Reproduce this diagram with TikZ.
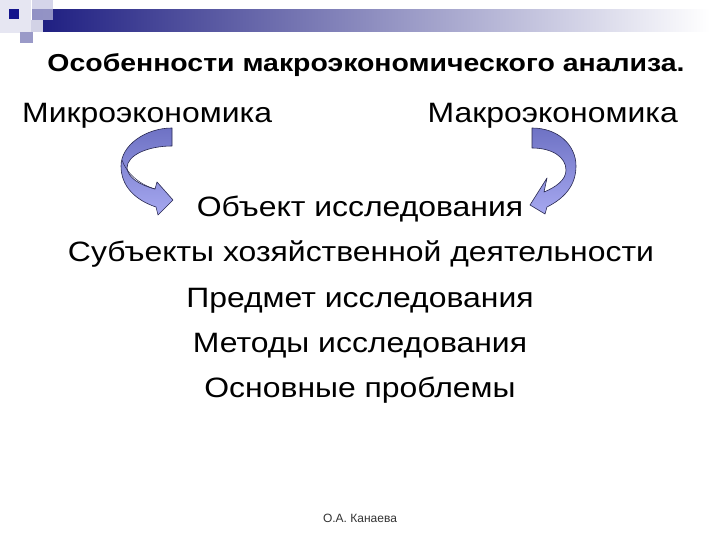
\documentclass[tikz,border=0pt]{standalone}
\usepackage{fontspec}
\setmainfont{Liberation Sans}
\usetikzlibrary{shapes.geometric}
\definecolor{navy}{HTML}{1C1C80}
\definecolor{barmid}{HTML}{A0A0B8}
\definecolor{sqpale}{HTML}{E6E6F2}
\definecolor{sqlight}{HTML}{C4C4E2}
\definecolor{sqmid}{HTML}{9A9AC8}
\definecolor{sqdark}{HTML}{14148C}
\definecolor{sqgrey}{HTML}{D2D2E6}
\definecolor{arrtop}{HTML}{6E72C4}
\definecolor{arrbot}{HTML}{A6A8F0}
\definecolor{arredge}{HTML}{282850}
\newcommand{\wide}[1]{\scalebox{1.14}[1]{#1}}
\tikzset{
  big/.style={font=\fontsize{28}{34}\selectfont, inner sep=0pt, anchor=base, text=black},
  titletext/.style={font=\fontsize{24.5}{29}\selectfont\bfseries, inner sep=0pt, anchor=base},
  foot/.style={font=\fontsize{12}{14}\selectfont, inner sep=0pt, anchor=base, text=black!80},
  ribbon/.style={draw=arredge, line width=0.6pt, top color=arrtop, bottom color=arrbot, line join=round}
}
\begin{document}
\begin{tikzpicture}[x=1pt,y=-1pt]
\useasboundingbox (0,0) rectangle (720,540);
\fill[white] (0,0) rectangle (720,540);
% header decoration
\fill[sqpale] (0,0) rectangle (31,33);
\shade[left color=navy, middle color=barmid, right color=white] (32,10) rectangle (710,32);
\fill[sqlight, opacity=0.7] (32,0) rectangle (53,20);
\fill[sqgrey] (31,20) rectangle (43,32);
\fill[sqdark] (9,9) rectangle (19,19);
\fill[sqmid] (20,32) rectangle (33,43);
% texts
\node[titletext] (title) at (366,72) {\scalebox{1.16}[1]{Особенности макроэкономического анализа.}};
\node[big, anchor=base west] (micro) at (22,123) {\wide{Микроэкономика}};
\node[big, anchor=base east] (macro) at (678,123) {\wide{Макроэкономика}};
\node[big] (l1) at (360,216) {\wide{Объект исследования}};
\node[big] (l2) at (361,261.5) {\wide{Субъекты хозяйственной деятельности}};
\node[big] (l3) at (360,307) {\wide{Предмет исследования}};
\node[big] (l4) at (360,352) {\wide{Методы исследования}};
\node[big] (l5) at (360,397.5) {\wide{Основные проблемы}};
\node[foot] (author) at (360,522) {О.А. Канаева};
% curved ribbon arrows
\path[ribbon] (172,128) .. controls (146,128) and (121,145) .. (121,166)
  .. controls (121,186) and (135,200) .. (156,207) -- (158,215) -- (173,200) -- (157,182) -- (155,189)
  .. controls (140,185) and (128,178) .. (127,168)
  .. controls (127,155) and (148,146) .. (172,146) -- cycle;
\draw[arredge, line width=0.5pt] (122,160) .. controls (126,172) and (138,184) .. (155,189);
\path[ribbon] (532,128) .. controls (558,128) and (576,145) .. (576,166)
  .. controls (576,185) and (565,198) .. (547,207) -- (545,214) -- (530,205) -- (547,178) -- (544,192)
  .. controls (556,187) and (566,180) .. (566,170)
  .. controls (566,157) and (552,148) .. (532,148) -- cycle;
\end{tikzpicture}
\end{document}
